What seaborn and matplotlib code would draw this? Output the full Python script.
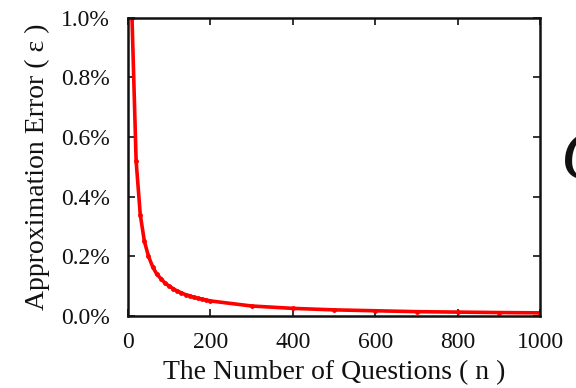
import matplotlib
matplotlib.use("Agg")
import matplotlib.pyplot as plt
import seaborn as sns
import pandas as pd
from matplotlib.ticker import FuncFormatter

# Approximation error (percent) versus number of questions
questions = [10, 20, 30, 40, 50, 60, 70, 80, 90, 100,
             110, 120, 130, 140, 150, 160, 170, 180, 190, 200,
             300, 400, 500, 600, 700, 800, 900, 1000]
error_pct = [1.0, 0.52, 0.34, 0.25, 0.20, 0.165, 0.14, 0.125, 0.11, 0.10,
             0.091, 0.083, 0.077, 0.071, 0.067, 0.062, 0.059, 0.056, 0.053, 0.05,
             0.033, 0.025, 0.020, 0.017, 0.014, 0.0125, 0.011, 0.010]
x_ticks = [0, 200, 400, 600, 800, 1000]
y_ticks = [0.0, 0.2, 0.4, 0.6, 0.8, 1.0]

df = pd.DataFrame({"n": questions, "eps": error_pct})

sns.set_theme(style="ticks")
plt.rcParams["font.family"] = ["Liberation Serif", "DejaVu Serif"]

fig = plt.figure(figsize=(5.76, 3.88), dpi=100)
ax = fig.add_axes([0.222, 0.186, 0.716, 0.768])

sns.lineplot(data=df, x="n", y="eps", ax=ax, color="#ff0000", linewidth=2.6,
             marker="o", markersize=3.5, markeredgewidth=0)

ax.set_xlim(0, 1000)
ax.set_ylim(0, 1.0)
ax.set_xticks(x_ticks)
ax.set_yticks(y_ticks)
ax.yaxis.set_major_formatter(FuncFormatter(lambda v, p: f"{v:.1f}%"))
ax.tick_params(direction="in", top=True, right=True, length=5, width=1.2,
               labelsize=17, colors="#111111")
ax.tick_params(axis="y", pad=13)
ax.tick_params(axis="x", pad=12)
for s in ax.spines.values():
    s.set_linewidth(1.8)
    s.set_color("#111111")

ax.set_xlabel("The Number of Questions ( n )", fontsize=20, color="#111111", labelpad=5)
ax.set_ylabel("Approximation Error ( ε )", fontsize=20, color="#111111", labelpad=8)

fig.text(0.974, 0.583, "C", fontsize=52, color="#111111", ha="left", va="center",
         style="italic")

fig.savefig("out.png", dpi=100)
